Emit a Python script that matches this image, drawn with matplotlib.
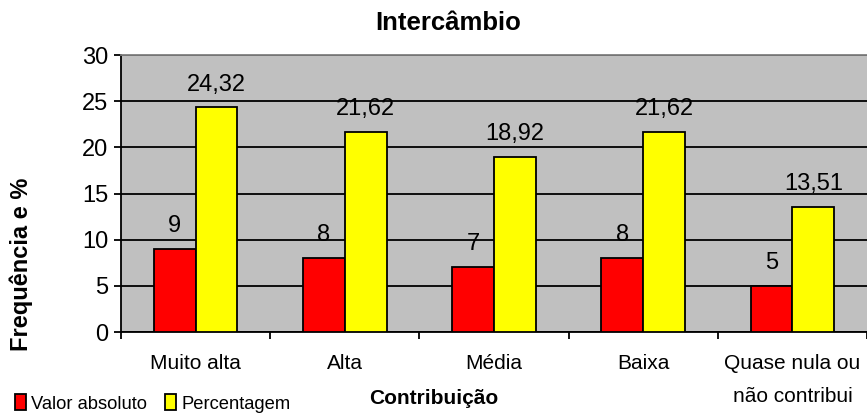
import numpy as np
import matplotlib.pyplot as plt

plt.rcParams['font.family'] = ['Liberation Sans', 'DejaVu Sans']

categorias = ["Muito alta", "Alta", "Média", "Baixa", "Quase nula ou\nnão contribui"]
valor_absoluto = [9, 8, 7, 8, 5]
percentagem = [24.32, 21.62, 18.92, 21.62, 13.51]
yticks = [0, 5, 10, 15, 20, 25, 30]


def fmt(v):
    # decimal comma as in the Portuguese labels
    if float(v).is_integer():
        return "%d" % v
    return ("%.2f" % v).replace(".", ",")


fig = plt.figure(figsize=(8.67, 4.15), dpi=100)
ax = fig.add_axes([121 / 867, 83 / 415, 746 / 867, 277 / 415])
ax.set_facecolor("#C0C0C0")

x = np.arange(len(categorias))
w = 0.28
b1 = ax.bar(x - w / 2, valor_absoluto, w, color="#FF0000", edgecolor="black",
            linewidth=1.3, label="Valor absoluto", zorder=3)
b2 = ax.bar(x + w / 2, percentagem, w, color="#FFFF00", edgecolor="black",
            linewidth=1.3, label="Percentagem", zorder=3)

for bars, vals in ((b1, valor_absoluto), (b2, percentagem)):
    for r, v in zip(bars, vals):
        ax.annotate(fmt(v), (r.get_x() + r.get_width() / 2, v),
                    xytext=(0, 16.5), textcoords="offset points",
                    ha="center", va="center", fontsize=17)

ax.set_xlim(-0.5, len(categorias) - 0.5)
ax.set_ylim(0, 30)
ax.set_yticks(yticks)
ax.tick_params(axis="y", labelsize=17, length=5, width=1.3, direction="out", pad=4)
ax.yaxis.grid(True, color="black", linewidth=1.3, zorder=0)
ax.set_axisbelow(True)

ax.set_xticks(x)
ax.set_xticklabels(categorias, fontsize=15, linespacing=1.95)
ax.tick_params(axis="x", length=0, pad=16)
ax.set_xticks(np.arange(len(categorias) + 1) - 0.5, minor=True)
ax.tick_params(axis="x", which="minor", length=5, width=1.3, direction="out")

for s in ("left", "bottom"):
    ax.spines[s].set_linewidth(1.3)
    ax.spines[s].set_color("black")
ax.spines["top"].set_color("#808080")
ax.spines["top"].set_linewidth(1.3)
ax.spines["right"].set_visible(False)

fig.text(448 / 867, 1 - 23 / 415, "Intercâmbio", ha="center", va="center",
         fontsize=18.5, fontweight="bold")
fig.text(434 / 867, 1 - 398 / 415, "Contribuição", ha="center", va="center",
         fontsize=15, fontweight="bold")
fig.text(21 / 867, 1 - 264 / 415, "Frequência e %", ha="center", va="center",
         rotation=90, fontsize=17, fontweight="bold")

fig.legend(handles=[b1, b2], loc="lower left", bbox_to_anchor=(9 / 867, -3 / 415),
           ncol=2, frameon=False, fontsize=13.2, handlelength=0.6,
           handleheight=1.0, handletextpad=0.3, columnspacing=1.0,
           borderaxespad=0.0, borderpad=0.3)

fig.savefig("out.png", dpi=100)
